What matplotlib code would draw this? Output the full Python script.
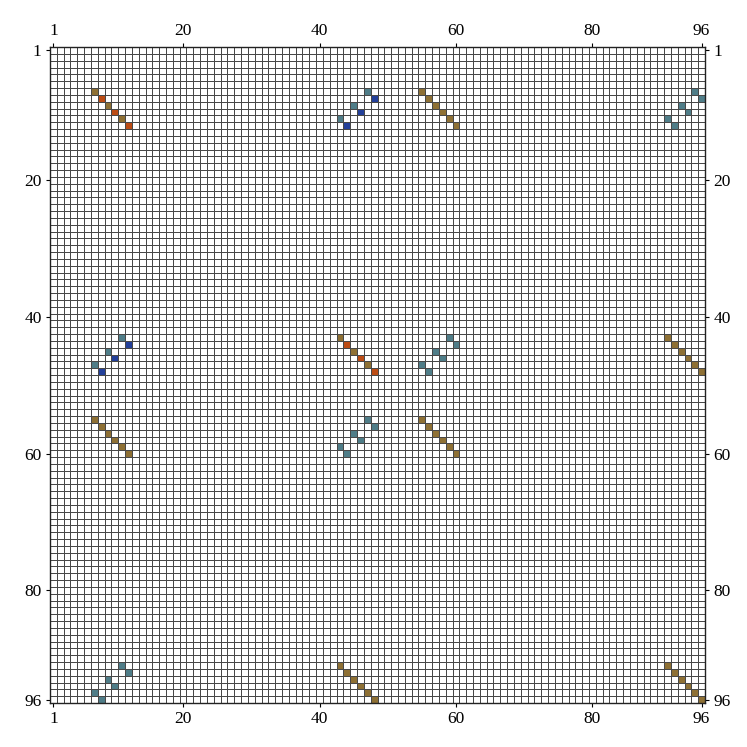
import matplotlib
matplotlib.use("Agg")
import matplotlib.pyplot as plt
import numpy as np
from matplotlib.colors import ListedColormap, BoundaryNorm

n = 96
# first row/column of each 6x6 block group
group_start = {"A": 7, "B": 43, "C": 55, "D": 91}

# value codes: -2 blue, -1 teal, 1 olive, 2 orange
diag_alt = [1, 2, 1, 2, 1, 2]
diag_olive = [1, 1, 1, 1, 1, 1]
pair_offsets = [(0, 4), (1, 5), (2, 2), (3, 3), (4, 0), (5, 1)]
pair_alt = [-1, -2, -1, -2, -1, -2]
pair_teal = [-1, -1, -1, -1, -1, -1]

diag_blocks = [("A", "A", diag_alt), ("B", "B", diag_alt),
               ("C", "C", diag_olive), ("D", "D", diag_olive),
               ("A", "C", diag_olive), ("B", "D", diag_olive)]
pair_blocks = [("A", "B", pair_alt), ("A", "D", pair_teal),
               ("B", "C", pair_teal)]

tick_vals = [1, 20, 40, 60, 80, 96]


def build_matrix():
    m = np.zeros((n, n))
    for g1, g2, vals in diag_blocks:
        r0, c0 = group_start[g1] - 1, group_start[g2] - 1
        for k, v in enumerate(vals):
            m[r0 + k, c0 + k] = v
            m[c0 + k, r0 + k] = v
    for g1, g2, vals in pair_blocks:
        r0, c0 = group_start[g1] - 1, group_start[g2] - 1
        for (dr, dc), v in zip(pair_offsets, vals):
            m[r0 + dr, c0 + dc] = v
            m[c0 + dc, r0 + dr] = v
    return m


mat = build_matrix()

cmap = ListedColormap(["#23409a", "#4f7d88", "#ffffff", "#8e7034", "#bc4c14"])
norm = BoundaryNorm([-2.5, -1.5, -0.5, 0.5, 1.5, 2.5], cmap.N)

fig = plt.figure(figsize=(7.47, 7.47), dpi=100)
ax = fig.add_axes([50 / 747, 44 / 747, 655 / 747, 656 / 747])

edges = np.arange(0.5, n + 1.0, 1.0)
ax.pcolormesh(edges, edges, mat, cmap=cmap, norm=norm,
              edgecolors="#484848", linewidth=0.65)
ax.set_xlim(0.5, n + 0.5)
ax.set_ylim(n + 0.5, 0.5)

ax.set_xticks(tick_vals)
ax.set_yticks(tick_vals)
ax.tick_params(axis="both", which="both", top=True, bottom=True, left=True, right=True,
               labeltop=True, labelbottom=True, labelleft=True, labelright=True,
               direction="out", length=3, width=0.8, labelsize=12.5, pad=3)
for lab in ax.get_xticklabels() + ax.get_yticklabels():
    lab.set_fontfamily("Liberation Serif")
for sp in ax.spines.values():
    sp.set_linewidth(1.0)
    sp.set_color("#222222")

fig.savefig("out.png", dpi=100)
